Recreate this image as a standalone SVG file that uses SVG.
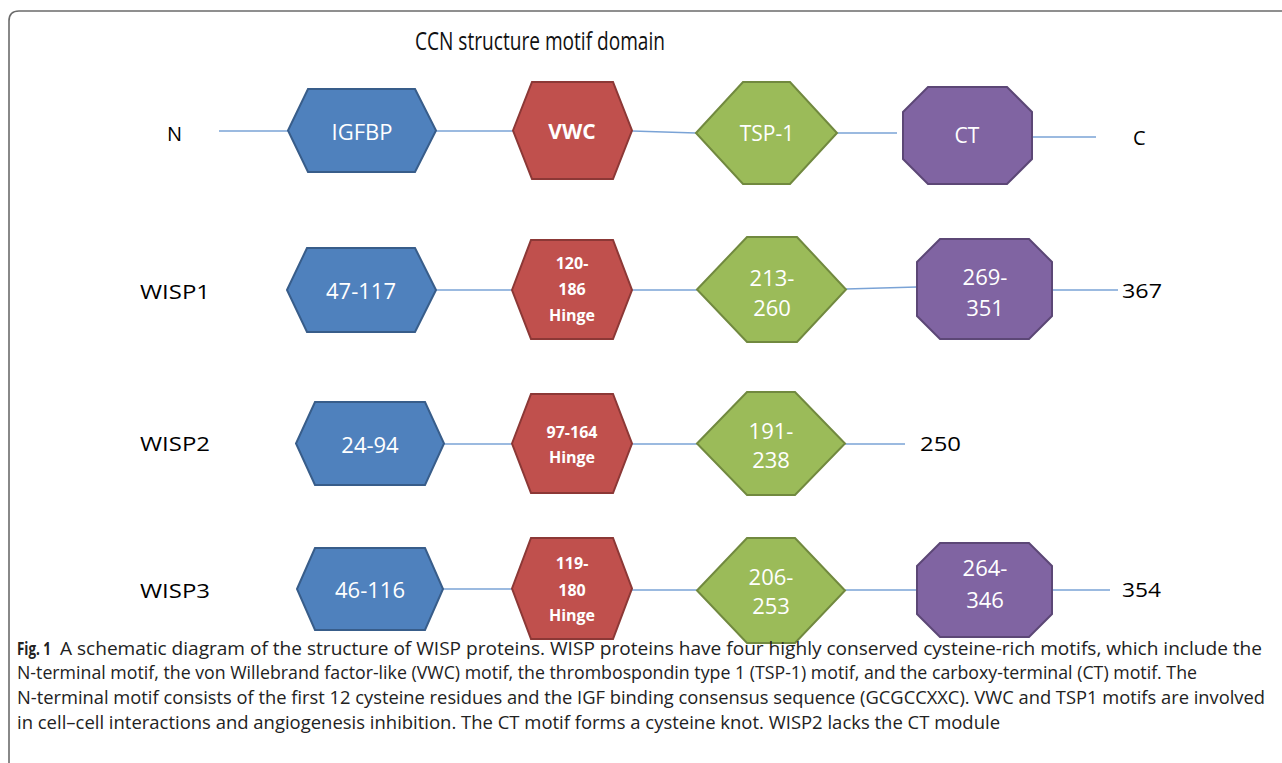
<svg xmlns="http://www.w3.org/2000/svg" width="1282" height="763" viewBox="0 0 1282 763">
<style>
.frame{fill:none;stroke:#6b6b6b;stroke-width:1.6}
.conn line{stroke:#7aa3d6;stroke-width:1.4}
.blue{fill:#4f81bd;stroke:#385d8a;stroke-width:2}
.red{fill:#c0504d;stroke:#8c3836;stroke-width:2}
.green{fill:#9bbb59;stroke:#71893f;stroke-width:2}
.purple{fill:#8064a2;stroke:#5c4776;stroke-width:2}
text{font-family:"Open Sans","Liberation Sans",sans-serif}
.in{fill:#fff;font-size:21px;text-anchor:middle;dominant-baseline:central}
.bold{font-weight:bold;font-size:16px}
.lab{fill:#000;font-size:20px;dominant-baseline:central}
.title{fill:#111;font-size:25px;text-anchor:middle;dominant-baseline:central}
.cap{fill:#222;font-size:18px}
</style>
<path class="frame" d="M9,763 V21 Q9,11 19,11 H1282"/>
<text class="title" x="540" y="40" textLength="250" lengthAdjust="spacingAndGlyphs">CCN structure motif domain</text>

<g id="labels">
<text class="lab" x="167" y="133">N</text>
<text class="lab" x="1133" y="137">C</text>
<text class="lab" x="140" y="291" textLength="70" lengthAdjust="spacingAndGlyphs">WISP1</text>
<text class="lab" x="140" y="443" textLength="70" lengthAdjust="spacingAndGlyphs">WISP2</text>
<text class="lab" x="140" y="590" textLength="70" lengthAdjust="spacingAndGlyphs">WISP3</text>
<text class="lab" x="1122" y="290" textLength="40" lengthAdjust="spacingAndGlyphs">367</text>
<text class="lab" x="920" y="443" textLength="41" lengthAdjust="spacingAndGlyphs">250</text>
<text class="lab" x="1122" y="589" textLength="39" lengthAdjust="spacingAndGlyphs">354</text>
</g>

<g id="connectors" class="conn">
<line x1="219" y1="131" x2="288" y2="131"/>
<line x1="436" y1="131" x2="513" y2="131"/>
<line x1="632" y1="131" x2="696" y2="133"/>
<line x1="837" y1="133" x2="897" y2="133"/>
<line x1="1022" y1="137" x2="1096" y2="137"/>
<line x1="436" y1="290" x2="512" y2="290"/>
<line x1="632" y1="290" x2="697" y2="290"/>
<line x1="846" y1="289" x2="917" y2="287"/>
<line x1="1052" y1="290" x2="1118" y2="290"/>
<line x1="444" y1="444" x2="512" y2="444"/>
<line x1="632" y1="444" x2="697" y2="444"/>
<line x1="845" y1="444" x2="905" y2="444"/>
<line x1="443" y1="589" x2="512" y2="589"/>
<line x1="632" y1="590" x2="697" y2="590"/>
<line x1="845" y1="590" x2="917" y2="590"/>
<line x1="1052" y1="590" x2="1110" y2="590"/>
</g>

<g id="igfbp"><polygon class="blue" points="288,130.5 308,89 415,89 436,130.5 415,172 308,172"/><text class="in" x="362" y="131" style="font-size:22px">IGFBP</text></g>
<g id="vwc"><polygon class="red" points="513,130.5 532,82 613,82 632,130.5 613,179 532,179"/><text class="in bold" x="572" y="131" style="font-size:21px">VWC</text></g>
<g id="tsp1"><polygon class="green" points="696,133 743,82 790,82 837,133 790,184 743,184"/><text class="in" x="767" y="133">TSP-1</text></g>
<g id="ct"><polygon class="purple" points="903,112 928,87 1007,87 1032,112 1032,159 1007,184 928,184 903,159"/><text class="in" x="967" y="135">CT</text></g>

<g id="wisp1-igfbp"><polygon class="blue" points="287,290 307,248 415,248 436,290 415,332 307,332"/><text class="in" x="361" y="290" style="font-size:22px">47-117</text></g>
<g id="wisp1-vwc"><polygon class="red" points="512,290 531,240 613,240 632,290 613,339 531,339"/><text class="in bold" x="572" y="263">120-</text><text class="in bold" x="572" y="289">186</text><text class="in bold" x="572" y="315">Hinge</text></g>
<g id="wisp1-tsp"><polygon class="green" points="697,289.5 747,237 797,237 846,289.5 797,342 747,342"/><text class="in" x="772" y="277" style="font-size:22px">213-</text><text class="in" x="772" y="307" style="font-size:22px">260</text></g>
<g id="wisp1-ct"><polygon class="purple" points="917,262 940,239 1029,239 1052,262 1052,316 1029,339 940,339 917,316"/><text class="in" x="985" y="276" style="font-size:22px">269-</text><text class="in" x="985" y="307" style="font-size:22px">351</text></g>

<g id="wisp2-igfbp"><polygon class="blue" points="296,443.5 315,402 425,402 444,443.5 425,485 315,485"/><text class="in" x="370" y="444" style="font-size:22px">24-94</text></g>
<g id="wisp2-vwc"><polygon class="red" points="512,443.5 531,394 613,394 632,443.5 613,493 531,493"/><text class="in bold" x="572" y="432">97-164</text><text class="in bold" x="572" y="457">Hinge</text></g>
<g id="wisp2-tsp"><polygon class="green" points="697,443.5 747,392 795,392 845,443.5 795,495 747,495"/><text class="in" x="771" y="430" style="font-size:22px">191-</text><text class="in" x="771" y="459" style="font-size:22px">238</text></g>

<g id="wisp3-igfbp"><polygon class="blue" points="297,589 315,548 425,548 443,589 425,630 315,630"/><text class="in" x="370" y="589" style="font-size:22px">46-116</text></g>
<g id="wisp3-vwc"><polygon class="red" points="512,588.5 531,538 613,538 632,588.5 613,639 531,639"/><text class="in bold" x="572" y="563">119-</text><text class="in bold" x="572" y="590">180</text><text class="in bold" x="572" y="615">Hinge</text></g>
<g id="wisp3-tsp"><polygon class="green" points="697,590.5 747,538 795,538 845,590.5 795,643 747,643"/><text class="in" x="771" y="576" style="font-size:22px">206-</text><text class="in" x="771" y="605" style="font-size:22px">253</text></g>
<g id="wisp3-ct"><polygon class="purple" points="917,566 940,543 1029,543 1052,566 1052,614 1029,637 940,637 917,614"/><text class="in" x="985" y="567" style="font-size:22px">264-</text><text class="in" x="985" y="599" style="font-size:22px">346</text></g>

<g id="caption">
<text class="cap" x="17" y="655" font-weight="bold" fill="#111" textLength="34" lengthAdjust="spacingAndGlyphs">Fig. 1</text>
<text class="cap" x="60" y="655" textLength="1202" lengthAdjust="spacingAndGlyphs">A schematic diagram of the structure of WISP proteins. WISP proteins have four highly conserved cysteine-rich motifs, which include the</text>
<text class="cap" x="17" y="679" textLength="1180" lengthAdjust="spacingAndGlyphs">N-terminal motif, the von Willebrand factor-like (VWC) motif, the thrombospondin type 1 (TSP-1) motif, and the carboxy-terminal (CT) motif. The</text>
<text class="cap" x="17" y="704" textLength="1248" lengthAdjust="spacingAndGlyphs">N-terminal motif consists of the first 12 cysteine residues and the IGF binding consensus sequence (GCGCCXXC). VWC and TSP1 motifs are involved</text>
<text class="cap" x="17" y="729" textLength="983" lengthAdjust="spacingAndGlyphs">in cell–cell interactions and angiogenesis inhibition. The CT motif forms a cysteine knot. WISP2 lacks the CT module</text>
</g>
</svg>
